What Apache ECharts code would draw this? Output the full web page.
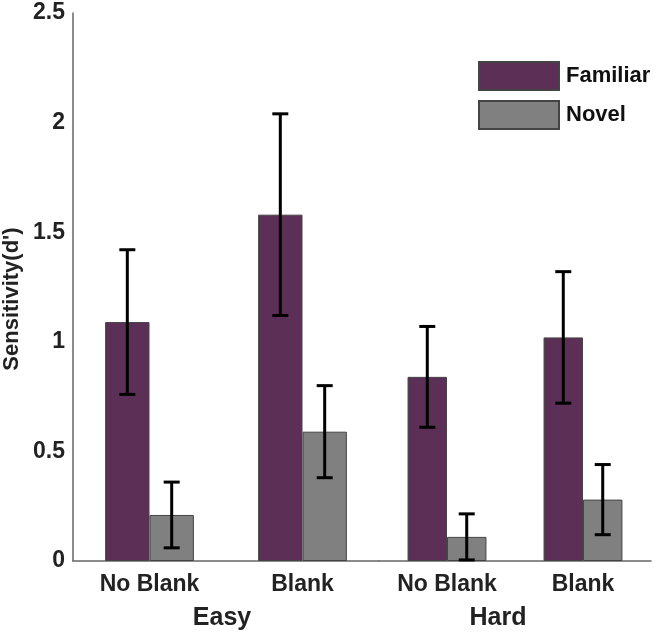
<!DOCTYPE html>
<html>
<head>
<meta charset="utf-8">
<script src="https://cdn.jsdelivr.net/npm/echarts@6/dist/echarts.min.js"></script>
<style>
  html, body { margin: 0; padding: 0; background: #fff; }
  #chart { width: 657px; height: 633px; }
</style>
</head>
<body>
<div id="chart"></div>
<script>
// conditions on x axis, grouped by difficulty
const conditions = ["No Blank", "Blank"];
const difficulties = ["Easy", "Hard"];
// order: Easy/No Blank, Easy/Blank, Hard/No Blank, Hard/Blank
const familiar = [1.09, 1.58, 0.84, 1.02];
const familiarErr = [0.33, 0.46, 0.23, 0.30];
const novel = [0.21, 0.59, 0.11, 0.28];
const novelErr = [0.15, 0.21, 0.105, 0.16];
const yTicks = [0, 0.5, 1, 1.5, 2, 2.5];

const FONT = "Liberation Sans";
const BAR_PCT = 0.29;

const chart = echarts.init(document.getElementById("chart"));

function errData(vals, errs, g) {
  // rows: [category index, mean, err]
  return [0, 1].map(i => [i, vals[g * 2 + i], errs[g * 2 + i]]);
}

function errSeries(vals, errs, g, sign) {
  return {
    type: "custom",
    xAxisIndex: g,
    yAxisIndex: g,
    z: 10,
    data: errData(vals, errs, g),
    renderItem: function (params, api) {
      const band = api.size([1, 0])[0];
      const off = sign * band * BAR_PCT / 2;
      const m = api.value(1), e = api.value(2);
      const top = api.coord([api.value(0), m + e]);
      const bot = api.coord([api.value(0), Math.max(0, m - e)]);
      const x = top[0] + off;
      const cap = 8;
      const style = { stroke: "#000", lineWidth: 3 };
      return {
        type: "group",
        children: [
          { type: "line", shape: { x1: x, y1: top[1], x2: x, y2: bot[1] }, style: style },
          { type: "line", shape: { x1: x - cap, y1: top[1], x2: x + cap, y2: top[1] }, style: style },
          { type: "line", shape: { x1: x - cap, y1: bot[1], x2: x + cap, y2: bot[1] }, style: style }
        ]
      };
    }
  };
}

function barSeries(name, vals, g, color) {
  return {
    name: name,
    type: "bar",
    xAxisIndex: g,
    yAxisIndex: g,
    barWidth: (BAR_PCT * 100) + "%",
    barGap: "0%",
    itemStyle: { color: color, borderColor: "#444", borderWidth: 1 },
    data: vals.slice(g * 2, g * 2 + 2)
  };
}

const xLabel = { fontFamily: FONT, fontWeight: "bold", fontSize: 23, color: "#222", margin: 12 };

const option = {
  animation: false,
  backgroundColor: "#fff",
  grid: [
    { left: 73, width: 306, top: 13, bottom: 72, outerBoundsMode: "none", containLabel: false },
    { left: 379, width: 272, top: 13, bottom: 72, outerBoundsMode: "none", containLabel: false }
  ],
  legend: {
    data: ["Familiar", "Novel"],
    orient: "vertical",
    left: 478,
    top: 61,
    padding: 0,
    itemWidth: 80,
    itemHeight: 28,
    itemGap: 9,
    icon: "rect",
    textStyle: { fontFamily: FONT, fontWeight: "bold", fontSize: 22, color: "#111", padding: [0, 0, 0, 2] }
  },
  xAxis: [0, 1].map(g => ({
    type: "category",
    gridIndex: g,
    data: conditions,
    axisLine: { show: true, lineStyle: { color: "#666", width: 1.5 } },
    axisTick: { show: false },
    axisLabel: xLabel,
    splitLine: { show: false },
    name: difficulties[g],
    nameLocation: "middle",
    nameGap: 45,
    nameTextStyle: {
      fontFamily: FONT, fontWeight: "bold", fontSize: 25, color: "#222",
      padding: g === 0 ? [0, 8, 0, 0] : [0, 34, 0, 0]
    }
  })),
  yAxis: [0, 1].map(g => ({
    type: "value",
    gridIndex: g,
    show: g === 0,
    min: yTicks[0],
    max: yTicks[yTicks.length - 1],
    interval: 0.5,
    axisLine: { show: true, lineStyle: { color: "#666", width: 1.5 } },
    axisTick: { show: false },
    splitLine: { show: false },
    axisLabel: { fontFamily: FONT, fontWeight: "bold", fontSize: 23, color: "#222", margin: 8 },
    name: "Sensitivity(d')",
    nameLocation: "middle",
    nameGap: 50,
    nameTextStyle: {
      fontFamily: FONT, fontWeight: "bold", fontSize: 22, color: "#222",
      padding: [0, 24, 0, 0]
    }
  })),
  series: [
    barSeries("Familiar", familiar, 0, "#5b2f56"),
    barSeries("Novel", novel, 0, "#808080"),
    barSeries("Familiar", familiar, 1, "#5b2f56"),
    barSeries("Novel", novel, 1, "#808080"),
    errSeries(familiar, familiarErr, 0, -1),
    errSeries(novel, novelErr, 0, 1),
    errSeries(familiar, familiarErr, 1, -1),
    errSeries(novel, novelErr, 1, 1)
  ]
};

chart.setOption(option);
</script>
</body>
</html>
